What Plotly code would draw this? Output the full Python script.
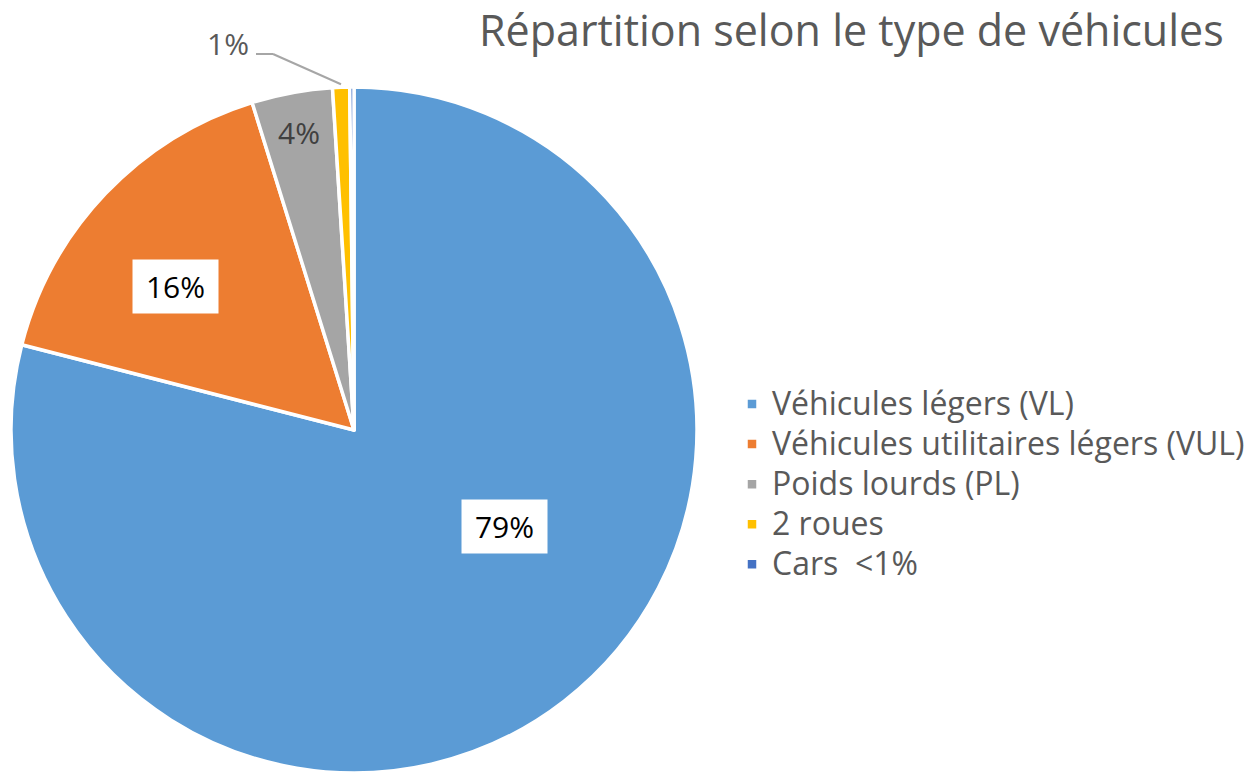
import math
import plotly.graph_objects as go

categories = ["Véhicules légers (VL)", "Véhicules utilitaires légers (VUL)",
              "Poids lourds (PL)", "2 roues", "Cars  <1%"]
values = [79.0, 16.2, 3.8, 0.8, 0.2]
value_labels = ["79%", "16%", "4%", "1%", ""]
colors = ["#5B9BD5", "#ED7D31", "#A5A5A5", "#FFC000", "#4472C4"]

W, H = 1257, 773
cx, cy, R = 354, 431, 343  # pie centre / radius in pixels
FONT = "Open Sans, Lato, sans-serif"

# legend entries drawn slightly larger than the legend row pitch font
legend_names = ['<span style="font-size:32px">%s</span>' % c for c in categories]

fig = go.Figure(go.Pie(
    labels=legend_names, values=values, sort=False, direction="clockwise",
    rotation=0, textinfo="none", hoverinfo="percent",
    marker=dict(colors=colors, line=dict(color="white", width=3.5)),
    domain=dict(x=[(cx - R) / W, (cx + R) / W], y=[0, 2 * R / H]),
))

# data label placement (style): radius fraction and angular tweak per slice
label_r = [0.52, 0.67, 0.885, 0, 0]
label_dang = [-19.8, -4.5, 0, 0, 0]

total = sum(values)
cum = 0
mids = []
for v in values:
    mids.append((cum + v / 2) / total * 360)
    cum += v

def to_paper(px, py):
    return px / W, 1 - py / H

annotations = []
for i, lab in enumerate(value_labels[:3]):
    a = math.radians(mids[i] + label_dang[i])
    px = cx + label_r[i] * R * math.sin(a)
    py = cy - label_r[i] * R * math.cos(a)
    x, y = to_paper(px, py)
    boxed = i < 2
    ann = dict(
        x=x, y=y, xref="paper", yref="paper", xanchor="center", yanchor="middle",
        text=lab, showarrow=False,
        font=dict(family=FONT, size=30, color="#000000" if boxed else "#404040"),
    )
    if boxed:
        ann.update(bgcolor="white", borderpad=0, width=85, height=53, align="center",
                   valign="middle")
    annotations.append(ann)

# outside label for the small "2 roues" slice with leader line
a = math.radians(mids[3])
ex = cx + (R + 2) * math.sin(a)
ey = cy - (R + 2) * math.cos(a)
lx, ly = to_paper(228, 44)
annotations.append(dict(x=lx, y=ly, xref="paper", yref="paper", xanchor="center",
                        yanchor="middle", text=value_labels[3], showarrow=False,
                        font=dict(family=FONT, size=30, color="#595959")))
pts = [(256, 54), (273, 54), (ex, ey - 2)]
shapes = []
for (x0, y0), (x1, y1) in zip(pts[:-1], pts[1:]):
    p0 = to_paper(x0, y0)
    p1 = to_paper(x1, y1)
    shapes.append(dict(type="line", xref="paper", yref="paper",
                       x0=p0[0], y0=p0[1], x1=p1[0], y1=p1[1],
                       line=dict(color="#A6A6A6", width=2)))

annotations.append(dict(
    x=1226 / W, y=1 - 29 / H, xref="paper", yref="paper", xanchor="right", yanchor="middle",
    text="Répartition selon le type de véhicules", showarrow=False,
    font=dict(family=FONT, size=43, color="#595959")))

fig.update_layout(
    width=W, height=H, margin=dict(l=0, r=0, t=0, b=0),
    paper_bgcolor="white", plot_bgcolor="white",
    showlegend=True,
    legend=dict(x=732 / W, y=1 - 379 / H, xanchor="left", yanchor="top",
                font=dict(family=FONT, size=28.5, color="#595959"),
                itemwidth=30, tracegroupgap=0),
    annotations=annotations, shapes=shapes,
)

fig.write_html("out.html", config={"displayModeBar": False})

# remove the browser's default body margin so the figure sits at (0, 0)
with open("out.html", encoding="utf-8") as f:
    html = f.read()
html = html.replace("<body>", '<body style="margin:0;overflow:hidden">', 1)
with open("out.html", "w", encoding="utf-8") as f:
    f.write(html)
